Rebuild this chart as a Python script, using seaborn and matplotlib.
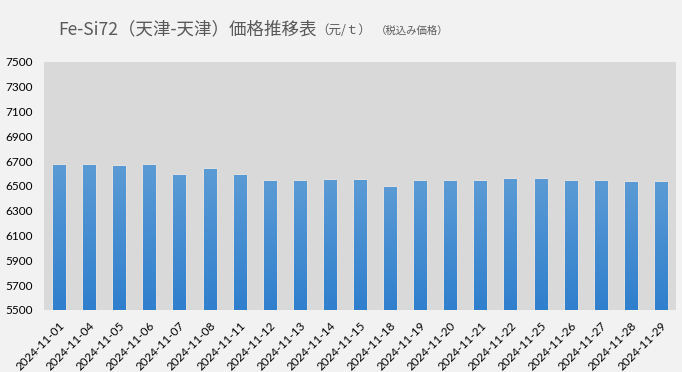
"""
Fe-Si72 price bar chart
"""

import numpy as np
import pandas as pd
import matplotlib
matplotlib.use("Agg")
import matplotlib.pyplot as plt
import seaborn as sns

# === Data ===
dates = [
    "2024-11-01", "2024-11-04", "2024-11-05", "2024-11-06", "2024-11-07",
    "2024-11-08", "2024-11-11", "2024-11-12", "2024-11-13", "2024-11-14",
    "2024-11-15", "2024-11-18", "2024-11-19", "2024-11-20", "2024-11-21",
    "2024-11-22", "2024-11-25", "2024-11-26", "2024-11-27", "2024-11-28",
    "2024-11-29",
]
prices = [
    6670, 6670, 6660, 6670, 6590,
    6640, 6590, 6540, 6540, 6550,
    6550, 6490, 6540, 6540, 6540,
    6560, 6560, 6540, 6540, 6530,
    6530,
]
y_ticks = [5500, 5700, 5900, 6100, 6300, 6500, 6700, 6900, 7100, 7300, 7500]

title_main = "Fe-Si72（天津-天津）価格推移表"
title_unit = "（元/ｔ）"
title_note = "（税込み価格）"

df = pd.DataFrame({"date": dates, "price": prices})

# === Style ===
sns.set_style("white")
plt.rcParams["font.family"] = ["Lato", "Noto Sans CJK JP", "DejaVu Sans"]
cjk = ["Noto Sans CJK JP", "DejaVu Sans"]

fig = plt.figure(figsize=(6.82, 3.72), dpi=100, facecolor="#f2f2f2")
ax = fig.add_axes([44 / 682, 1 - 310 / 372, 632 / 682, 248 / 372])
ax.set_facecolor("#d9d9d9")

sns.barplot(data=df, x="date", y="price", color="#5b9bd5", width=0.4,
            saturation=1, ax=ax)

ax.set_ylim(5500, 7500)
ax.set_yticks(y_ticks)
ax.set_xlabel("")
ax.set_ylabel("")
for s in ax.spines.values():
    s.set_visible(False)
ax.tick_params(axis="both", length=0, labelsize=8.5, colors="#000000")
ax.tick_params(axis="y", pad=8)
ax.tick_params(axis="x", pad=7)
plt.setp(ax.get_xticklabels(), rotation=45, ha="right", rotation_mode="anchor")

# gradient fill on bars (lighter top -> deeper bottom)
grad = np.linspace(0, 1, 256).reshape(-1, 1)
cmap = matplotlib.colors.LinearSegmentedColormap.from_list(
    "bar", ["#2f7fcd", "#5b9bd5"])
for p in ax.patches:
    x0, y0 = p.get_x(), p.get_y()
    w, h = p.get_width(), p.get_height()
    p.set_facecolor("none")
    im = ax.imshow(grad, cmap=cmap, aspect="auto", origin="lower",
                   extent=[x0, x0 + w, 5500, y0 + h], zorder=2)
    im.set_clip_path(p)
ax.set_xlim(-0.5, len(dates) - 0.5)
ax.set_ylim(5500, 7500)

# === Title (chained pieces, shared baseline) ===
base_y = 1 - 34 / 372
t1 = fig.text(58 / 682, base_y, title_main, fontsize=12.6,
              color="#595959", va="baseline", ha="left", family=cjk)
t2 = fig.text(0, base_y, title_unit, fontsize=9, color="#595959",
              va="baseline", family=cjk)
t3 = fig.text(0, base_y, title_note, fontsize=7.5, color="#595959",
              va="baseline", family=cjk)
fig.canvas.draw()
r = fig.canvas.get_renderer()
bb = t1.get_window_extent(r)
t2.set_position((bb.x1 / fig.bbox.width, base_y))
fig.canvas.draw()
bb2 = t2.get_window_extent(r)
t3.set_position((bb2.x1 / fig.bbox.width + 4 / 682, base_y))

fig.savefig("out.png", dpi=100, facecolor=fig.get_facecolor())
